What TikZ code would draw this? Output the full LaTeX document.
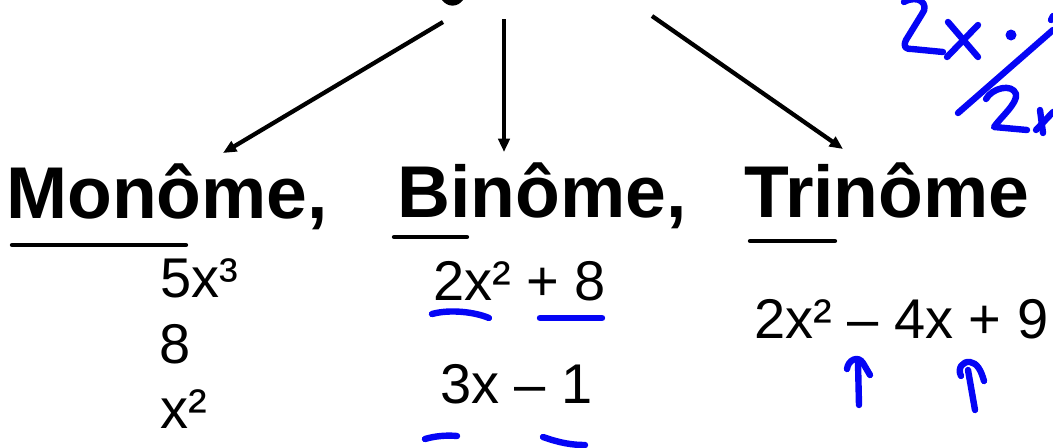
\documentclass[tikz,border=0pt]{standalone}
\usepackage{fontspec}
\setmainfont{Liberation Sans}
\usetikzlibrary{arrows.meta}
\definecolor{ink}{RGB}{5,5,245}
\tikzset{
  title/.style={anchor=base west,inner sep=0pt,font=\fontsize{55}{62}\selectfont\bfseries},
  term/.style={anchor=base west,inner sep=0pt,font=\fontsize{42}{50}\selectfont},
  conn/.style={line width=3.2pt,-{Triangle[length=10pt,width=8.5pt]}},
  uline/.style={line width=3.2pt,line cap=round},
  pen/.style={draw=ink,line width=4.8pt,line cap=round,line join=round},
}
\begin{document}
\begin{tikzpicture}[x=0.75pt,y=-0.75pt]
\useasboundingbox (0,0) rectangle (1053,447);
% cut-off glyph at top
\fill (442,0) .. controls (448,8) and (458,7) .. (463,0) -- cycle;
% titles
\node[title] (mono) at (6,218) {Monôme,};
\node[title] (bino) at (397,217) {Binôme,};
\node[title] (trino) at (744,217) {Trinôme};
\draw[uline] (12,245) -- (186,245);
\draw[uline] (394,237) -- (467,237);
\draw[uline] (750,241) -- (835,241);
% arrows
\coordinate (sL) at (443,22); \coordinate (tL) at (223,153);
\coordinate (sM) at (504,19); \coordinate (tM) at (504,152);
\coordinate (sR) at (652,16); \coordinate (tR) at (843,149);
\draw[conn] (sL) -- (tL);
\draw[conn] (sM) -- (tM);
\draw[conn] (sR) -- (tR);
% terms
\node[term] (m1) at (160,297) {5x³};
\node[term] (m2) at (159,363) {8};
\node[term] (m3) at (160,428) {x²};
\node[term] (b1) at (433,300) {2x² + 8};
\node[term] (b2) at (440,403) {3x – 1};
\node[term] (t1) at (754,338) {2x² – 4x + 9};
% blue handwriting: underlines
\draw[pen] (432,314) .. controls (450,309) and (475,312) .. (489,318);
\draw[pen] (540,318) -- (602,318);
\draw[pen] (425,439) .. controls (435,436) and (447,435) .. (457,436);
\draw[pen] (543,437) .. controls (560,443) and (572,445) .. (585,445);
% blue arrows under trinomial
\draw[pen] (859,405) -- (858,363);
\draw[pen] (847,369) .. controls (848,360) and (858,355) .. (863,363) -- (870,375);
\draw[pen] (975,410) -- (968,370);
\draw[pen] (961,376) .. controls (957,368) and (963,361) .. (970,362) .. controls (977,363) and (981,370) .. (984,381);
% blue handwriting top right: 2x . / 2x
\draw[pen] (904,2) .. controls (918,-6) and (930,4) .. (922,14) -- (906,40) .. controls (903,47) and (905,49) .. (912,49) -- (943,52);
\draw[pen] (948,22) -- (978,57);
\draw[pen] (978,25) -- (947,57);
\fill[ink] (1011,35) circle (5.5);
\draw[pen] (958,113) -- (1053,30);
\draw[pen] (986,99) .. controls (992,88) and (1012,83) .. (1016,94) .. controls (1018,103) and (1000,118) .. (994,127) -- (1027,130);
\draw[pen] (1040,110) -- (1043,133);
\draw[pen] (1036,130) -- (1053,112);
\draw[pen] (1051,20) -- (1053,16);
\end{tikzpicture}
\end{document}
